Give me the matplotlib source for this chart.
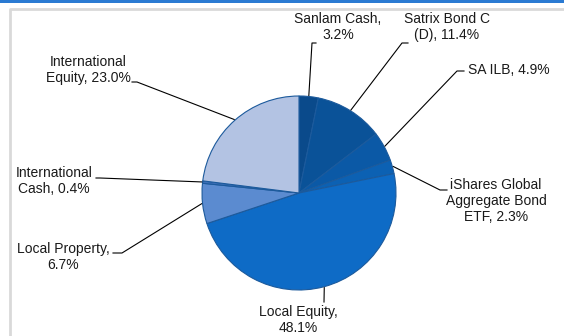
import numpy as np
import matplotlib
matplotlib.use("Agg")
from matplotlib import pyplot as plt
from matplotlib.patches import Rectangle

matplotlib.rc("font", family="Liberation Sans", size=10)

# 资产配置
assets = ["Sanlam Cash", "Satrix Bond C\n(D)", "SA ILB",
          "iShares Global\nAggregate Bond\nETF", "Local Equity",
          "Local Property", "International\nCash", "International\nEquity"]
weights = [3.2, 11.4, 4.9, 2.3, 48.1, 6.7, 0.4, 23.0]
colors = ["#0a4a8b", "#0a5298", "#0b59a6", "#0c61b3", "#0e6bc6",
          "#5b8bd0", "#3d6fb8", "#b3c3e3"]

# 标签文字 (格式: 名称, 百分比)
labels = [
    "Sanlam Cash,\n3.2%",
    "Satrix Bond C\n(D), 11.4%",
    "SA ILB, 4.9%",
    "iShares Global\nAggregate Bond\nETF, 2.3%",
    "Local Equity,\n48.1%",
    "Local Property,\n6.7%",
    "International\nCash, 0.4%",
    "International\nEquity, 23.0%",
]

# 饼图中心和半径 (像素坐标)
cx, cy, r = 299, 193, 97

# 引线拐点, 引线终点, 文字中心
elbows = [(312, 43), (402, 43), (457, 71), (440, 190),
          (324, 302), (122, 253), (100, 178), (137, 82)]
ends = [(316, 43), (408, 43), (464, 71), (447, 190),
        (324, 302), (113, 253), (96, 178), (132, 82)]
text_pos = [(338, 27), (447, 27), (509, 70), (496, 201),
            (298, 320), (63, 257), (54, 181), (88, 70)]

fig = plt.figure(figsize=(5.64, 3.36), dpi=100)
ax = fig.add_axes([0, 0, 1, 1])
ax.set_xlim(0, 564)
ax.set_ylim(336, 0)
ax.set_aspect("equal")
ax.axis("off")

# 外框
ax.add_patch(Rectangle((0, 0), 564, 2.5, color="#2a7ad2", lw=0))
ax.plot([10, 10, 570], [345, 9, 9], color="#d9d9d9", lw=2)

# y轴反转, 所以从-90度逆时针画就是从顶部顺时针
wedges, _ = ax.pie(weights, colors=colors, startangle=-90, counterclock=True,
                   center=(cx, cy), radius=r,
                   wedgeprops=dict(edgecolor="#1c5a9c", linewidth=0.8))
ax.set_xlim(0, 564)
ax.set_ylim(336, 0)

cum = np.cumsum([0] + weights)
for i, w in enumerate(weights):
    mid = np.deg2rad(90 - (cum[i] + w / 2) * 3.6)
    px = cx + (r + 1) * np.cos(mid)
    py = cy - (r + 1) * np.sin(mid)
    ex, ey = elbows[i]
    fx, fy = ends[i]
    ax.plot([px, ex, fx], [py, ey, fy], color="black", lw=0.8)
    ax.text(text_pos[i][0], text_pos[i][1], labels[i], ha="center",
            va="center", multialignment="center", color="#1a1a1a",
            fontsize=10, linespacing=1.15)

fig.savefig("out.png", dpi=100)
